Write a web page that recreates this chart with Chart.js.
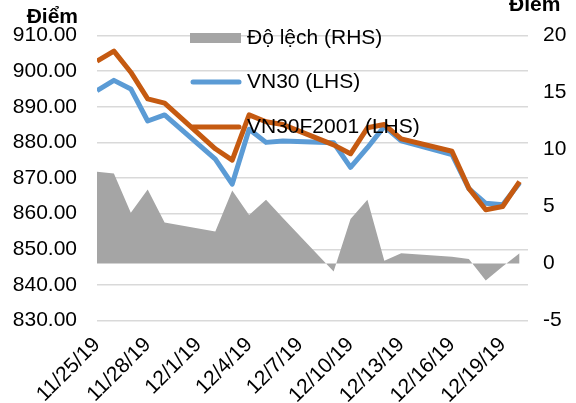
<!DOCTYPE html>
<html>
<head>
<meta charset="utf-8">
<script src="https://cdn.jsdelivr.net/npm/chart.js@4.4.1/dist/chart.umd.min.js"></script>
<style>
  html, body { margin: 0; padding: 0; background: #fff; }
  canvas { display: block; }
</style>
</head>
<body>
<canvas id="chart" width="576" height="403"></canvas>
<script>
// ── Data ──
const dates = ['11/25/19', '11/26/19', '11/27/19', '11/28/19', '11/29/19',
  '12/2/19', '12/3/19', '12/4/19', '12/5/19', '12/6/19',
  '12/9/19', '12/10/19', '12/11/19', '12/12/19', '12/13/19',
  '12/16/19', '12/17/19', '12/18/19', '12/19/19', '12/20/19'];

const spread = [8.05, 7.9, 4.45, 6.5, 3.6, 2.8, 6.4, 4.25, 5.6, 4.0,
  -0.7, 3.9, 5.6, 0.24, 0.9, 0.6, 0.4, -1.5, -0.27, 0.9];

const vn30 = [894.5, 897.4, 895.0, 886.0, 887.7, 875.3, 868.3, 883.7, 880.0, 880.4,
  879.9, 873.0, 878.5, 884.5, 880.4, 876.6, 867.0, 862.9, 862.5, 868.6];

const vn30f = [902.8, 905.6, 899.7, 892.2, 891.0, 878.2, 875.0, 887.7, 885.8, 885.0,
  879.3, 876.8, 884.1, 885.0, 881.0, 877.5, 867.1, 861.1, 862.0, 869.0];

const tickLabels = ['11/25/19', '11/28/19', '12/1/19', '12/4/19', '12/7/19',
  '12/10/19', '12/13/19', '12/16/19', '12/19/19'];

const seriesNames = ['Độ lệch (RHS)', 'VN30 (LHS)', 'VN30F2001 (LHS)'];
const axisTitle = 'Điểm';

// date string -> days since first date
function parseDate(s) {
  const [m, d, y] = s.split('/').map(Number);
  return new Date(2000 + y, m - 1, d);
}
const t0 = parseDate(dates[0]);
const dayOf = s => Math.round((parseDate(s) - t0) / 86400000);
const toPoints = vals => vals.map((v, i) => ({ x: dayOf(dates[i]), y: v }));
const tickDays = tickLabels.map(dayOf);

const FONT = 'Liberation Sans, Arial, sans-serif';
Chart.defaults.font.family = FONT;
Chart.defaults.font.size = 21;
Chart.defaults.color = '#000';

// legend + axis titles drawn inside the canvas
const overlay = {
  id: 'overlay',
  afterDraw(chart) {
    const ctx = chart.ctx;
    ctx.save();
    ctx.fillStyle = '#000';
    ctx.font = 'bold 21px ' + FONT;
    ctx.textAlign = 'right';
    ctx.textBaseline = 'alphabetic';
    ctx.fillText(axisTitle, 78, 23);
    ctx.textAlign = 'left';
    ctx.fillText(axisTitle, 509, 11);

    // legend
    const rows = [38, 82, 127];
    chart.data.datasets.forEach((ds, i) => {
      const y = rows[i];
      if (ds.fill) {
        ctx.fillStyle = ds.backgroundColor;
        ctx.fillRect(190, y - 5, 51, 10);
      } else {
        ctx.strokeStyle = ds.borderColor;
        ctx.lineWidth = ds.borderWidth;
        ctx.lineCap = 'round';
        ctx.beginPath();
        ctx.moveTo(193, y);
        ctx.lineTo(239, y);
        ctx.stroke();
      }
      ctx.fillStyle = '#000';
      ctx.font = '21px ' + FONT;
      ctx.textAlign = 'left';
      ctx.textBaseline = 'middle';
      ctx.fillText(ds.label, 247, y);
    });
    ctx.restore();
  }
};

new Chart(document.getElementById('chart'), {
  type: 'line',
  data: {
    datasets: [
      {
        label: seriesNames[0], data: toPoints(spread), yAxisID: 'y1',
        fill: 'origin', backgroundColor: '#a5a5a5', borderWidth: 0,
        pointRadius: 0, tension: 0, order: 3
      },
      {
        label: seriesNames[1], data: toPoints(vn30), yAxisID: 'y',
        fill: false, borderColor: '#5b9bd5', borderWidth: 5,
        borderJoinStyle: 'round', pointRadius: 0, tension: 0, order: 2
      },
      {
        label: seriesNames[2], data: toPoints(vn30f), yAxisID: 'y',
        fill: false, borderColor: '#c55a11', borderWidth: 5,
        borderJoinStyle: 'round', pointRadius: 0, tension: 0, order: 1
      }
    ]
  },
  options: {
    responsive: false,
    animation: false,
    layout: { padding: { top: 35.5, left: 0, right: 0, bottom: 0 } },
    plugins: { legend: { display: false }, tooltip: { enabled: false } },
    scales: {
      x: {
        type: 'linear', min: 0, max: 25.5,
        grid: { display: false }, border: { display: false },
        afterBuildTicks: s => { s.ticks = tickDays.map(v => ({ value: v })); },
        afterFit: s => { s.height = 82.5; },
        ticks: {
          autoSkip: false, maxRotation: 45, minRotation: 45, padding: 4,
          callback: v => tickLabels[tickDays.indexOf(v)]
        }
      },
      y: {
        position: 'left', min: 830, max: 910,
        grid: { color: '#d9d9d9', lineWidth: 1.5, drawTicks: false },
        border: { display: false },
        afterFit: s => { s.width = 97; },
        ticks: { stepSize: 10, padding: 20, callback: v => v.toFixed(2) }
      },
      y1: {
        position: 'right', min: -5, max: 20,
        grid: { display: false, drawTicks: false },
        border: { display: false },
        afterFit: s => { s.width = 48; },
        ticks: { stepSize: 5, padding: 15, crossAlign: 'near' }
      }
    }
  },
  plugins: [overlay]
});
</script>
</body>
</html>
